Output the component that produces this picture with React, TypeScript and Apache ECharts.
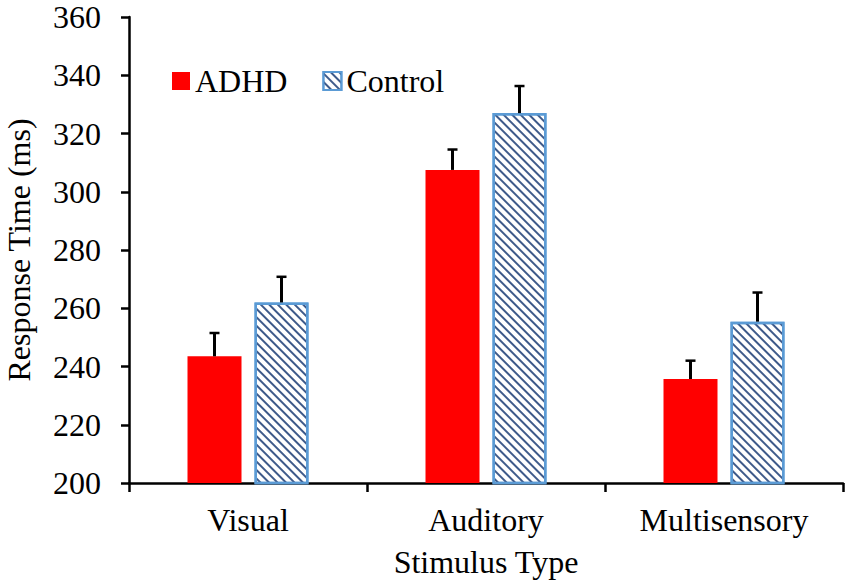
import React, { useEffect, useRef } from "react";
import * as echarts from "echarts";

const categories = ["Visual", "Auditory", "Multisensory"];
const adhdValues = [243.5, 307.5, 235.7];
const controlValues = [262, 327, 255.4];
const adhdErrors = [8, 7, 6.3];
const controlErrors = [8.8, 9.3, 10];
const yTicks = { min: 200, max: 360, interval: 20 };

const FONT = "Liberation Serif";
const BAR_W = 54;
const BAR_GAP = 13;

export default function App() {
  const ref = useRef<HTMLDivElement>(null);
  useEffect(() => {
    const chart = echarts.init(ref.current!, null, { renderer: "svg" });
    const errData = (vals: number[], errs: number[], s: number) =>
      vals.map((v, i) => [i, v, v + errs[i], s]);
    const renderErr = (params: any, api: any) => {
      const idx = api.value(0);
      const lo = api.coord([idx, api.value(1)]);
      const hi = api.coord([idx, api.value(2)]);
      const side = api.value(3);
      const x = lo[0] + side * (BAR_W + BAR_GAP) / 2;
      return {
        type: "group",
        children: [
          { type: "line", shape: { x1: x, y1: lo[1], x2: x, y2: hi[1] }, style: { stroke: "#000", lineWidth: 3 } },
          { type: "line", shape: { x1: x - 5, y1: hi[1], x2: x + 5, y2: hi[1] }, style: { stroke: "#000", lineWidth: 2.5 } },
        ],
      };
    };
    const txt = { fontFamily: FONT, fontSize: 32, color: "#000" };
    chart.setOption({
      animation: false,
      backgroundColor: "#fff",
      textStyle: { fontFamily: FONT },
      grid: { left: 129, right: 7, top: 17, bottom: 105, containLabel: false, outerBoundsMode: "none" },
      legend: {
        left: 172,
        top: 65,
        padding: 0,
        icon: "rect",
        itemWidth: 18,
        itemHeight: 18,
        itemGap: 35,
        textStyle: { ...txt },
        data: ["ADHD", "Control"],
      },
      xAxis: {
        type: "category",
        data: categories,
        name: "Stimulus Type",
        nameLocation: "middle",
        nameGap: 63,
        nameTextStyle: { ...txt },
        axisLine: { lineStyle: { color: "#000", width: 2.5 } },
        axisTick: { show: true, length: 9, lineStyle: { color: "#000", width: 2.5 } },
        axisLabel: { ...txt, margin: 21 },
      },
      yAxis: {
        type: "value",
        min: yTicks.min,
        max: yTicks.max,
        interval: yTicks.interval,
        name: "Response Time (ms)",
        nameLocation: "middle",
        nameGap: 94,
        nameTextStyle: { ...txt },
        axisLine: { show: true, lineStyle: { color: "#000", width: 2.5 } },
        axisTick: { show: true, length: 8, lineStyle: { color: "#000", width: 2.5 } },
        axisLabel: { ...txt, margin: 28 },
        splitLine: { show: false },
      },
      series: [
        {
          name: "ADHD",
          type: "bar",
          data: adhdValues,
          barWidth: BAR_W,
          barGap: (BAR_GAP / BAR_W) * 100 + "%",
          itemStyle: { color: "#FF0000" },
        },
        {
          name: "Control",
          type: "bar",
          data: controlValues,
          barWidth: BAR_W,
          itemStyle: {
            color: "#fff",
            borderColor: "#5B9BD5",
            borderWidth: 2.5,
            decal: {
              symbol: "rect",
              symbolSize: 1,
              dashArrayX: [1, 0],
              dashArrayY: [2, 4],
              rotation: Math.PI / 4,
              color: "#3E5A8A",
              backgroundColor: "#fff",
            },
          },
        },
        {
          type: "custom",
          renderItem: renderErr,
          data: errData(adhdValues, adhdErrors, -1),
          encode: { x: 0, y: [1, 2] },
          z: 10,
          silent: true,
        },
        {
          type: "custom",
          renderItem: renderErr,
          data: errData(controlValues, controlErrors, 1),
          encode: { x: 0, y: [1, 2] },
          z: 10,
          silent: true,
        },
      ],
    });
    return () => chart.dispose();
  }, []);
  return <div ref={ref} style={{ position: "fixed", left: 0, top: 0, width: 850, height: 588 }} />;
}
